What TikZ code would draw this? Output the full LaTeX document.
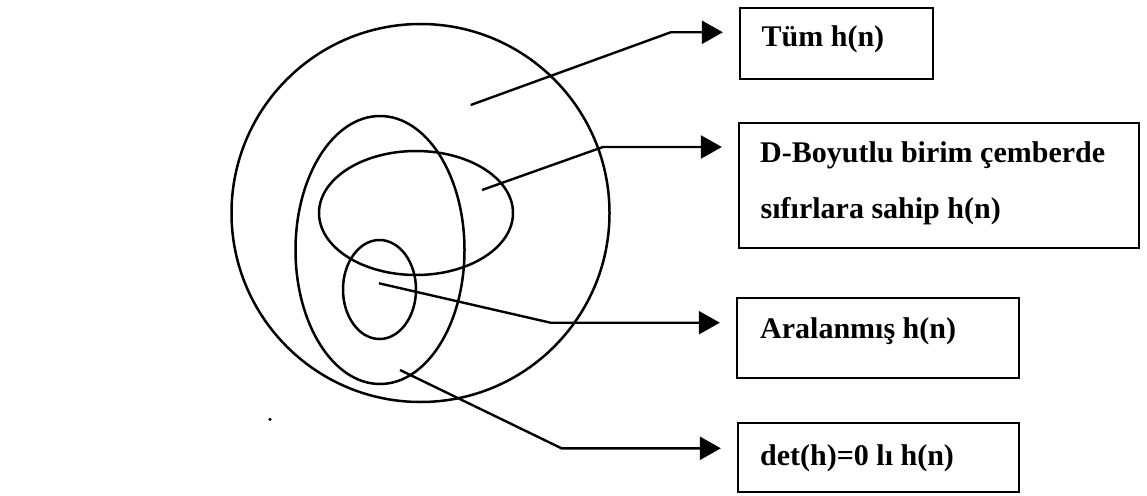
\documentclass[tikz,border=0pt]{standalone}
\usepackage{fontspec}
\setmainfont{Liberation Serif}
\usetikzlibrary{arrows.meta}
\begin{document}
\begin{tikzpicture}[x=1pt,y=-1pt,
  setline/.style={line width=2.5pt},
  box/.style={draw, line width=2.3pt, rectangle, inner sep=0pt},
  lbl/.style={anchor=base west, inner sep=0pt, font=\fontsize{30}{36}\selectfont\bfseries},
  arr/.style={line width=2.4pt, -{Triangle[length=21pt,width=23pt]}, shorten >=16pt}]
\useasboundingbox (0,0) rectangle (1147,495);
% sets
\draw[setline] (420.5,213) circle[radius=189];
\draw[setline] (380,250) ellipse[x radius=84.5, y radius=134];
\draw[setline] (416,213) ellipse[x radius=97, y radius=62];
\draw[setline] (379.5,289.5) ellipse[x radius=36.5, y radius=49.5];
\fill (270,419.3) circle[radius=1.8];
% boxes
\node[box, minimum width=193pt, minimum height=71pt] (b1) at (836.5,43.8) {};
\node[box, minimum width=400pt, minimum height=125pt] (b2) at (939,185.5) {};
\node[box, minimum width=282pt, minimum height=80pt] (b3) at (878,338) {};
\node[box, minimum width=281pt, minimum height=68.7pt] (b4) at (878.5,457.3) {};
% labels
\node[lbl] (t1) at (761.5,46.7) {Tüm h(n)};
\node[lbl] (t2a) at (760,162.3) {D-Boyutlu birim çemberde};
\node[lbl] (t2b) at (760.5,218.3) {sıfırlara sahip h(n)};
\node[lbl] (t3) at (760,338.3) {Aralanmış h(n)};
\node[lbl] (t4) at (760,465) {det(h)=0 lı h(n)};
% connectors
\coordinate (s1) at (470.7,105);
\coordinate (k1) at (670.7,32.3);
\coordinate (s2) at (482,190);
\coordinate (k2) at (603,147);
\coordinate (s3) at (379,283.3);
\coordinate (k3) at (550.5,322.7);
\coordinate (s4) at (400,370);
\coordinate (k4) at (561.5,448.3);
\draw[arr] (s1) -- (k1) -- (k1 -| b1.west);
\draw[arr] (s2) -- (k2) -- (k2 -| b2.west);
\draw[arr] (s3) -- (k3) -- (k3 -| b3.west);
\draw[arr] (s4) -- (k4) -- (k4 -| b4.west);
\end{tikzpicture}
\end{document}
